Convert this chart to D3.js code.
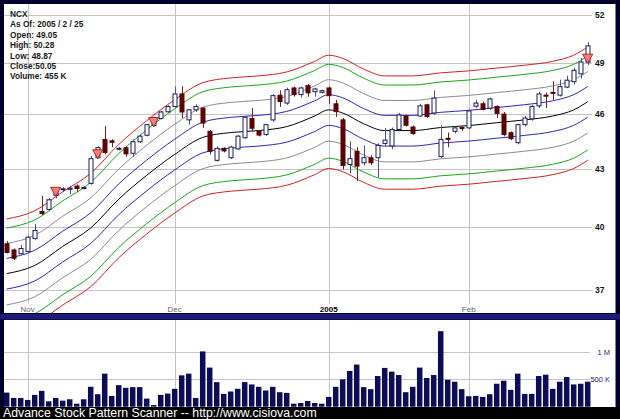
<!DOCTYPE html>
<html><head><meta charset="utf-8">
<script src="https://cdn.jsdelivr.net/npm/d3@7/dist/d3.min.js"></script>
<style>html,body{margin:0;padding:0;background:#000028;}svg{display:block}</style>
</head><body>
<svg id="chart" width="620" height="419"></svg>
<script>
// ---------------- DATA ----------------
const symbol = "NCX";
const asOf = "2005 / 2 / 25";
const infoLines = ["NCX", "As Of: 2005 / 2 / 25", "Open: 49.05", "High: 50.28", "Low: 48.87", "Close:50.05", "Volume: 455 K"];

const dates = [
 "2004-10-27","2004-10-28","2004-10-29",
 "2004-11-01","2004-11-02","2004-11-03","2004-11-04","2004-11-05","2004-11-08","2004-11-09","2004-11-10","2004-11-11","2004-11-12",
 "2004-11-15","2004-11-16","2004-11-17","2004-11-18","2004-11-19","2004-11-22","2004-11-23","2004-11-24","2004-11-26","2004-11-29","2004-11-30",
 "2004-12-01","2004-12-02","2004-12-03","2004-12-06","2004-12-07","2004-12-08","2004-12-09","2004-12-10","2004-12-13","2004-12-14","2004-12-15",
 "2004-12-16","2004-12-17","2004-12-20","2004-12-21","2004-12-22","2004-12-23","2004-12-27","2004-12-28","2004-12-29","2004-12-30","2004-12-31",
 "2005-01-03","2005-01-04","2005-01-05","2005-01-06","2005-01-07","2005-01-10","2005-01-11","2005-01-12","2005-01-13","2005-01-14",
 "2005-01-18","2005-01-19","2005-01-20","2005-01-21","2005-01-24","2005-01-25","2005-01-26","2005-01-27","2005-01-28","2005-01-31",
 "2005-02-01","2005-02-02","2005-02-03","2005-02-04","2005-02-07","2005-02-08","2005-02-09","2005-02-10","2005-02-11",
 "2005-02-14","2005-02-15","2005-02-16","2005-02-17","2005-02-18","2005-02-22","2005-02-23","2005-02-24","2005-02-25"
];

const opens = [
 39.18,38.88,38.70,38.81,39.43,40.78,40.88,41.60,41.89,41.91,
 42.08,41.97,42.22,43.58,44.58,44.50,44.04,44.12,43.82,44.45,
 44.81,45.35,45.75,46.13,46.43,47.16,45.67,46.24,46.34,45.03,
 43.44,44.09,43.58,44.06,44.67,45.74,45.02,44.85,45.67,47.09,
 46.63,47.51,47.12,47.65,47.29,47.26,47.51,46.59,45.67,43.22,
 43.93,43.31,43.58,43.58,44.36,44.22,45.13,45.89,45.27,45.89,
 46.53,46.06,43.64,44.64,45.03,45.24,45.22,46.45,46.59,46.34,
 46.43,46.00,44.95,44.40,45.40,45.73,46.47,47.09,47.25,47.09,
 47.56,47.88,48.35,49.05];
const highs = [
 39.31,38.95,39.12,39.57,40.16,41.57,41.45,42.02,42.02,42.07,
 42.17,42.07,43.67,44.20,45.32,44.58,44.17,44.20,44.58,44.83,
 45.45,45.84,46.18,46.50,47.59,47.61,46.29,46.56,46.41,45.10,
 44.20,44.15,44.23,44.83,45.89,46.34,45.10,45.45,47.15,47.37,
 47.53,47.59,47.59,47.74,47.53,47.41,47.59,46.82,45.78,44.47,
 44.15,44.25,43.71,44.36,45.22,45.24,46.06,45.97,45.35,46.59,
 46.59,47.37,45.35,44.96,45.29,45.32,46.27,46.82,46.71,46.94,
 46.50,46.12,45.02,45.45,45.89,46.53,47.29,47.24,47.90,48.00,
 48.24,48.71,49.31,50.28];
const lows = [
 38.71,38.40,38.67,38.76,39.38,40.60,40.78,41.45,41.76,41.66,
 41.76,41.91,42.15,43.55,43.76,44.15,43.98,43.63,43.63,44.39,
 44.75,45.29,45.70,46.09,46.38,45.77,45.40,46.12,45.22,43.76,
 43.38,43.87,43.52,44.01,44.61,45.02,44.75,44.77,45.56,46.41,
 46.53,47.00,46.94,47.00,47.00,47.18,46.59,45.84,42.95,42.74,
 42.34,43.16,43.19,42.53,44.20,44.04,45.07,45.29,44.83,45.84,
 45.78,45.97,43.57,44.15,44.91,45.05,45.15,46.35,46.21,46.24,
 45.78,44.75,44.55,44.31,45.29,45.62,46.35,46.35,46.82,47.00,
 47.50,47.71,48.06,48.87];
const closes = [
 38.76,38.48,38.95,39.50,39.83,40.67,41.37,41.94,41.94,41.97,
 41.95,42.00,43.53,44.13,43.87,44.42,44.09,43.79,44.45,44.76,
 45.40,45.77,46.12,46.43,47.16,46.12,46.24,46.43,45.49,43.93,
 44.09,43.95,44.16,44.76,45.82,45.20,44.82,45.40,47.06,46.72,
 47.41,47.12,47.51,47.22,47.45,47.35,47.06,46.14,43.16,43.53,
 43.13,43.58,43.31,44.25,44.54,45.13,45.95,45.37,44.91,46.47,
 45.86,46.92,44.58,44.58,45.22,45.18,46.18,46.63,46.27,46.87,
 46.04,44.85,44.62,45.40,45.77,46.43,47.16,47.03,47.19,47.59,
 47.97,48.56,49.06,50.05];
// volume in thousands
const volumes = [
 257,159,159,123,215,288,98,159,110,135,
 55,135,362,227,601,196,392,343,356,356,
 147,31,215,239,325,570,601,159,1005,711,
 447,233,276,325,447,405,362,294,362,264,
 251,55,67,104,67,55,178,362,497,650,
 766,356,319,558,705,638,576,264,362,711,
 521,576,1373,490,454,319,190,196,178,227,
 417,472,307,601,233,233,558,582,325,454,
 539,405,417,455];

// signal markers (dates)
const signalDates = ["2004-11-05","2004-11-15","2004-11-26","2005-02-25"];

// envelope centre line, read at sample dates
const centerDates = ["2004-10-27","2004-11-02","2004-11-08","2004-11-12","2004-11-18","2004-11-24","2004-12-01","2004-12-07",
 "2004-12-13","2004-12-17","2004-12-23","2004-12-30","2005-01-03","2005-01-05","2005-01-10","2005-01-13","2005-01-20",
 "2005-01-26","2005-02-01","2005-02-07","2005-02-11","2005-02-17","2005-02-23","2005-02-25"];
const centerValues = [37.76,38.14,39.05,39.95,41.40,42.64,43.76,44.69,44.96,45.07,45.29,45.89,46.24,46.06,45.45,45.07,45.07,
 45.24,45.35,45.51,45.67,45.89,46.24,46.71];
// envelope offsets (fraction) and colours
const bandOffsets = [0.07, 0.058, 0.038, 0.019, 0, -0.019, -0.038, -0.058, -0.07];
const bandColors = ["#d42020","#18a818","#8c8c8c","#2828c0","#000000","#2828c0","#8c8c8c","#18a818","#d42020"];

const priceTicks = [37, 40, 43, 46, 49, 52];
const volumeTicks = [500, 1000];
const volumeTickLabels = ["500 K", "1 M"];
const monthTicks = ["2004-11-01","2004-12-01","2005-01-03","2005-02-01"];
const monthLabels = ["Nov","Dec","2005","Feb"];
const footer = "Advance Stock Pattern Scanner -- http://www.cisiova.com";

// ---------------- CHART ----------------
const svg = d3.select("#chart");
const FONT = "'Liberation Sans', Arial, sans-serif";

svg.append("rect").attr("x",0).attr("y",0).attr("width",620).attr("height",419).attr("fill","#00002a");
svg.append("rect").attr("x",4).attr("y",4).attr("width",611.5).attr("height",309).attr("fill","#ffffff");
svg.append("rect").attr("x",0).attr("y",314).attr("width",620).attr("height",5.5).attr("fill","#1c1c78");
svg.append("rect").attr("x",4).attr("y",320).attr("width",611.5).attr("height",87).attr("fill","#ffffff");
svg.append("rect").attr("x",0).attr("y",407).attr("width",620).attr("height",12).attr("fill","#000000");

const x = d3.scaleBand().domain(dates).range([3.2, 591.2]).padding(0);
const xc = d => x(d) + x.bandwidth() / 2;
const y = d3.scaleLog().domain([37, 52]).range([290, 15]);
const yv = d3.scaleLinear().domain([0, 1000]).range([406.7, 351.7]);

svg.append("defs").append("clipPath").attr("id","mainclip")
  .append("rect").attr("x",4).attr("y",4).attr("width",611.5).attr("height",309);

const gridColor = "#c4c4c4";
// horizontal grid (price)
const gMain = svg.append("g");
gMain.selectAll("line.hg").data(priceTicks).join("line")
  .attr("x1",4).attr("x2",592).attr("y1",d=>Math.round(y(d))+0.5).attr("y2",d=>Math.round(y(d))+0.5)
  .attr("stroke",gridColor).attr("stroke-width",1);
// vertical grid
gMain.selectAll("line.vg").data(monthTicks).join("line")
  .attr("x1",d=>Math.round(xc(d))+0.5).attr("x2",d=>Math.round(xc(d))+0.5).attr("y1",4).attr("y2",304)
  .attr("stroke",gridColor).attr("stroke-width",1);
// price labels
gMain.selectAll("text.pl").data(priceTicks).join("text")
  .attr("x",595).attr("y",d=>y(d)+3).text(d=>d)
  .attr("font-family",FONT).attr("font-size",8.5).attr("font-weight","bold").attr("fill","#111");
// month labels
gMain.selectAll("text.ml").data(monthTicks).join("text")
  .attr("x",d=>xc(d)).attr("y",311.5).attr("text-anchor","middle")
  .text((d,i)=>monthLabels[i])
  .attr("font-family",FONT).attr("font-size",8)
  .attr("font-weight",(d,i)=>monthLabels[i]==="2005"?"bold":"normal")
  .attr("fill",(d,i)=>monthLabels[i]==="2005"?"#000":"#666");

// envelope bands
const centre = centerDates.map((d,i)=>({x:xc(d), v:centerValues[i]}));
const gBands = svg.append("g").attr("clip-path","url(#mainclip)");
bandOffsets.forEach((off,k)=>{
  const line = d3.line().x(p=>p.x).y(p=>y(p.v*(1+off))).curve(d3.curveMonotoneX);
  gBands.append("path").attr("d", line(centre)).attr("fill","none")
    .attr("stroke", bandColors[k]).attr("stroke-width",1);
});

// candles
const candles = dates.map((d,i)=>({d, o:opens[i], h:highs[i], l:lows[i], c:closes[i], v:volumes[i]}));
const gC = svg.append("g");
const bw = 5;
gC.selectAll("line.wick").data(candles).join("line")
  .attr("x1",p=>Math.round(xc(p.d))+0.5).attr("x2",p=>Math.round(xc(p.d))+0.5)
  .attr("y1",p=>y(p.h)).attr("y2",p=>y(p.l))
  .attr("stroke",p=>p.c>=p.o?"#505088":"#7a2020").attr("stroke-width",1);
gC.selectAll("rect.body").data(candles).join("rect")
  .attr("x",p=>Math.round(xc(p.d))-2)
  .attr("y",p=>y(Math.max(p.o,p.c)))
  .attr("width",bw-1)
  .attr("height",p=>Math.max(1, y(Math.min(p.o,p.c))-y(Math.max(p.o,p.c))))
  .attr("fill",p=>p.c>=p.o?"#ffffff":"#5a0404")
  .attr("stroke",p=>p.c>=p.o?"#1a1a5a":"#5a0404").attr("stroke-width",1);

// signal triangles
const sig = candles.filter(p=>signalDates.includes(p.d));
gC.selectAll("path.sig").data(sig).join("path")
  .attr("d",p=>{const cx=xc(p.d), tip=y(Math.min(p.o,p.c))+1; return `M${cx-5},${tip-9}L${cx+5},${tip-9}L${cx},${tip}Z`;})
  .attr("fill","#f08080").attr("stroke","#c02020").attr("stroke-width",1);

// info text
svg.append("g").selectAll("text").data(infoLines).join("text")
  .attr("x",10).attr("y",(d,i)=>17+i*10.4).text(d=>d)
  .attr("font-family",FONT).attr("font-size",8.3).attr("font-weight","bold").attr("fill","#1a1a1a");

// volume panel
const gV = svg.append("g");
gV.selectAll("line.vh").data(volumeTicks).join("line")
  .attr("x1",4).attr("x2",590).attr("y1",d=>Math.round(yv(d))+0.5).attr("y2",d=>Math.round(yv(d))+0.5)
  .attr("stroke","#c4c4d4").attr("stroke-width",1);
gV.selectAll("line.vv").data(monthTicks).join("line")
  .attr("x1",d=>Math.round(xc(d))+0.5).attr("x2",d=>Math.round(xc(d))+0.5).attr("y1",320).attr("y2",407)
  .attr("stroke",gridColor).attr("stroke-width",1);
gV.selectAll("text.vl").data(volumeTicks).join("text")
  .attr("x",610).attr("y",d=>yv(d)+3).attr("text-anchor","end")
  .text((d,i)=>volumeTickLabels[i])
  .attr("font-family",FONT).attr("font-size",7.5).attr("fill","#2a2a7a");
gV.selectAll("rect.vol").data(candles).join("rect")
  .attr("x",p=>xc(p.d)-2.75).attr("width",5.5)
  .attr("y",p=>yv(p.v)).attr("height",p=>yv(0)-yv(p.v))
  .attr("fill","#0c0c58");

// footer
svg.append("text").attr("x",3).attr("y",417).text(footer)
  .attr("font-family",FONT).attr("font-size",12.3).attr("fill","#ffffff");
</script>
</body></html>
